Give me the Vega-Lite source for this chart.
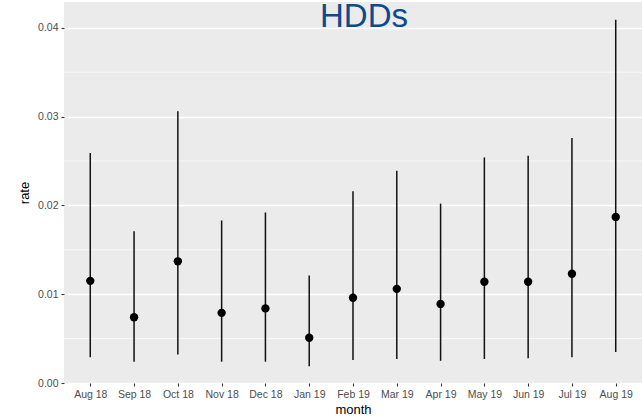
{
  "$schema": "https://vega.github.io/schema/vega-lite/v6.json",
  "width": 578,
  "height": 381,
  "autosize": {"type": "none"},
  "padding": {"left": 64, "top": 2, "right": 2, "bottom": 35},
  "background": "white",
  "config": {
    "view": {"fill": "#ebebeb", "stroke": null},
    "font": "Liberation Sans",
    "axis": {
      "domain": false,
      "gridColor": "white",
      "gridWidth": 1.4,
      "tickColor": "#333333",
      "tickSize": 3,
      "tickWidth": 1.1,
      "labelColor": "#4d4d4d",
      "labelFontSize": 10.5,
      "titleColor": "black",
      "titleFontSize": 13,
      "titleFontWeight": "normal",
      "labelPadding": 3
    }
  },
  "datasets": {
    "rates": [
      {"month": "Aug 18", "rate": 0.0115, "lower": 0.0029, "upper": 0.0259},
      {"month": "Sep 18", "rate": 0.0074, "lower": 0.0024, "upper": 0.0171},
      {"month": "Oct 18", "rate": 0.0137, "lower": 0.0032, "upper": 0.0306},
      {"month": "Nov 18", "rate": 0.0079, "lower": 0.0024, "upper": 0.0183},
      {"month": "Dec 18", "rate": 0.0084, "lower": 0.0024, "upper": 0.0192},
      {"month": "Jan 19", "rate": 0.0051, "lower": 0.0019, "upper": 0.0121},
      {"month": "Feb 19", "rate": 0.0096, "lower": 0.0026, "upper": 0.0216},
      {"month": "Mar 19", "rate": 0.0106, "lower": 0.0027, "upper": 0.0239},
      {"month": "Apr 19", "rate": 0.0089, "lower": 0.0025, "upper": 0.0202},
      {"month": "May 19", "rate": 0.0114, "lower": 0.0027, "upper": 0.0254},
      {"month": "Jun 19", "rate": 0.0114, "lower": 0.0028, "upper": 0.0256},
      {"month": "Jul 19", "rate": 0.0123, "lower": 0.0029, "upper": 0.0276},
      {"month": "Aug 19", "rate": 0.0187, "lower": 0.0035, "upper": 0.0409}
    ],
    "minor": [
      {"v": 0.005}, {"v": 0.015}, {"v": 0.025}, {"v": 0.035}
    ],
    "label": [
      {"month": "Feb 19", "rate": 0.0401, "text": "HDDs"}
    ]
  },
  "layer": [
    {
      "data": {"name": "minor"},
      "mark": {"type": "rule", "color": "white", "strokeWidth": 0.7},
      "encoding": {
        "y": {
          "field": "v", "type": "quantitative",
          "scale": {"domain": [0, 0.0429], "nice": false, "zero": false},
          "axis": {"title": "rate", "values": [0, 0.01, 0.02, 0.03, 0.04], "format": ".2f", "titlePadding": 6}
        }
      }
    },
    {
      "data": {"name": "rates"},
      "layer": [
        {
          "mark": {"type": "rule", "color": "#111111", "strokeWidth": 1.5},
          "encoding": {
            "x": {
              "field": "month", "type": "ordinal", "sort": null,
              "scale": {"type": "point", "padding": 0.6},
              "axis": {"title": "month", "labelAngle": 0, "titlePadding": 4}
            },
            "y": {
              "field": "lower", "type": "quantitative",
              "axis": {"title": "rate", "values": [0, 0.01, 0.02, 0.03, 0.04], "format": ".2f", "titlePadding": 6}
            },
            "y2": {"field": "upper"}
          }
        },
        {
          "mark": {"type": "point", "filled": true, "color": "black", "opacity": 1, "size": 70},
          "encoding": {
            "x": {
              "field": "month", "type": "ordinal", "sort": null,
              "scale": {"type": "point", "padding": 0.6},
              "axis": {"title": "month", "labelAngle": 0, "titlePadding": 4}
            },
            "y": {
              "field": "rate", "type": "quantitative",
              "axis": {"title": "rate", "values": [0, 0.01, 0.02, 0.03, 0.04], "format": ".2f", "titlePadding": 6}
            }
          }
        }
      ]
    },
    {
      "data": {"name": "label"},
      "mark": {"type": "text", "fontSize": 33, "color": "#0b4a8b", "align": "center", "baseline": "alphabetic", "dx": 11, "font": "Liberation Sans"},
      "encoding": {
        "x": {"field": "month", "type": "ordinal", "sort": null},
        "y": {"field": "rate", "type": "quantitative"},
        "text": {"field": "text"}
      }
    }
  ]
}
